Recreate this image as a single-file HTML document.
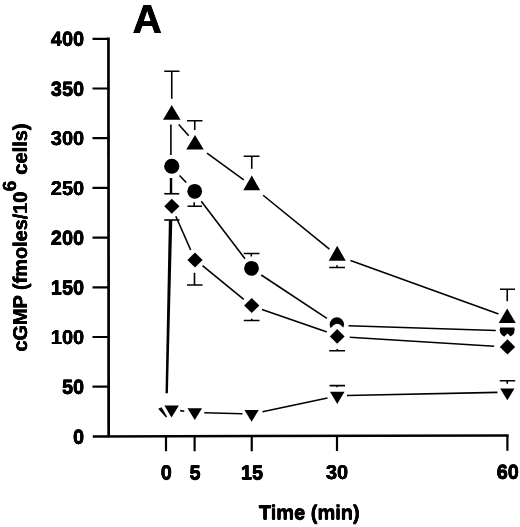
<!DOCTYPE html>
<html><head><meta charset="utf-8"><title>A</title>
<style>
html,body{margin:0;padding:0;background:#fff;}
body{width:520px;height:527px;overflow:hidden;font-family:"Liberation Sans",sans-serif;}
svg{display:block;will-change:transform;}
text{font-family:"Liberation Sans",sans-serif;font-weight:bold;fill:#000;text-rendering:geometricPrecision;}
</style></head><body>
<svg width="520" height="527" viewBox="0 0 520 527">
<rect width="520" height="527" fill="#fff"/>
<!-- axes -->
<g stroke="#000" stroke-width="2.2" fill="none" stroke-linecap="butt">
<path d="M108.45 37.5L108.65 436.4" stroke-width="2.7"/>
<path d="M92.8 436.4L508.6 435.6" stroke-width="2.5"/>
<path d="M92.5 38.8H108.3M92.5 88.5H108.3M92.5 138.2H108.3M92.5 187.9H108.3M92.5 237.6H108.3M92.5 287.3H108.3M92.5 337.0H108.3M92.5 386.7H108.3"/>
<path d="M166 436V451.3M194.6 436V451.3M251.75 436V451.2M337 436V451M507.4 435V450.7"/>
</g>
<g transform="translate(0.3,0)">
<!-- y labels -->
<g font-size="20" text-anchor="end">
<text x="84.2" y="45.8">400</text>
<text x="84.2" y="95.5">350</text>
<text x="84.2" y="145.2">300</text>
<text x="84.2" y="194.9">250</text>
<text x="84.2" y="244.6">200</text>
<text x="84.2" y="294.3">150</text>
<text x="84.2" y="344.0">100</text>
<text x="84.2" y="393.7">50</text>
<text x="84.2" y="443.5">0</text>
</g>
<g font-size="20" text-anchor="middle">
<text x="166.3" y="479.3">0</text>
<text x="195" y="479.3">5</text>
<text x="252" y="479.3">15</text>
<text x="337" y="479.0">30</text>
<text x="507.8" y="478.6">60</text>
</g>
<text x="309.3" y="519.3" font-size="20" text-anchor="middle">Time (min)</text>
<text x="132.6" y="32.8" font-size="40.5">A</text>
<text transform="translate(27,351.5) rotate(-90)" font-size="20"><tspan x="0" y="0" font-size="19.9">cGMP (fmoles/10</tspan><tspan x="160.2" y="-11" font-size="19">6</tspan><tspan x="176.9" y="0">cells)</tspan></text>
</g>
<g transform="translate(-0.3,0)">
<!-- y labels -->
<g font-size="20" text-anchor="end">
<text x="84.2" y="45.8">400</text>
<text x="84.2" y="95.5">350</text>
<text x="84.2" y="145.2">300</text>
<text x="84.2" y="194.9">250</text>
<text x="84.2" y="244.6">200</text>
<text x="84.2" y="294.3">150</text>
<text x="84.2" y="344.0">100</text>
<text x="84.2" y="393.7">50</text>
<text x="84.2" y="443.5">0</text>
</g>
<g font-size="20" text-anchor="middle">
<text x="166.3" y="479.3">0</text>
<text x="195" y="479.3">5</text>
<text x="252" y="479.3">15</text>
<text x="337" y="479.0">30</text>
<text x="507.8" y="478.6">60</text>
</g>
<text x="309.3" y="519.3" font-size="20" text-anchor="middle">Time (min)</text>
<text x="132.6" y="32.8" font-size="40.5">A</text>
<text transform="translate(27,351.5) rotate(-90)" font-size="20"><tspan x="0" y="0" font-size="19.9">cGMP (fmoles/10</tspan><tspan x="160.2" y="-11" font-size="19">6</tspan><tspan x="176.9" y="0">cells)</tspan></text>
</g>
<g transform="translate(0,0.3)">
<!-- y labels -->
<g font-size="20" text-anchor="end">
<text x="84.2" y="45.8">400</text>
<text x="84.2" y="95.5">350</text>
<text x="84.2" y="145.2">300</text>
<text x="84.2" y="194.9">250</text>
<text x="84.2" y="244.6">200</text>
<text x="84.2" y="294.3">150</text>
<text x="84.2" y="344.0">100</text>
<text x="84.2" y="393.7">50</text>
<text x="84.2" y="443.5">0</text>
</g>
<g font-size="20" text-anchor="middle">
<text x="166.3" y="479.3">0</text>
<text x="195" y="479.3">5</text>
<text x="252" y="479.3">15</text>
<text x="337" y="479.0">30</text>
<text x="507.8" y="478.6">60</text>
</g>
<text x="309.3" y="519.3" font-size="20" text-anchor="middle">Time (min)</text>
<text x="132.6" y="32.8" font-size="40.5">A</text>
<text transform="translate(27,351.5) rotate(-90)" font-size="20"><tspan x="0" y="0" font-size="19.9">cGMP (fmoles/10</tspan><tspan x="160.2" y="-11" font-size="19">6</tspan><tspan x="176.9" y="0">cells)</tspan></text>
</g>
<g transform="translate(0,-0.3)">
<!-- y labels -->
<g font-size="20" text-anchor="end">
<text x="84.2" y="45.8">400</text>
<text x="84.2" y="95.5">350</text>
<text x="84.2" y="145.2">300</text>
<text x="84.2" y="194.9">250</text>
<text x="84.2" y="244.6">200</text>
<text x="84.2" y="294.3">150</text>
<text x="84.2" y="344.0">100</text>
<text x="84.2" y="393.7">50</text>
<text x="84.2" y="443.5">0</text>
</g>
<g font-size="20" text-anchor="middle">
<text x="166.3" y="479.3">0</text>
<text x="195" y="479.3">5</text>
<text x="252" y="479.3">15</text>
<text x="337" y="479.0">30</text>
<text x="507.8" y="478.6">60</text>
</g>
<text x="309.3" y="519.3" font-size="20" text-anchor="middle">Time (min)</text>
<text x="132.6" y="32.8" font-size="40.5">A</text>
<text transform="translate(27,351.5) rotate(-90)" font-size="20"><tspan x="0" y="0" font-size="19.9">cGMP (fmoles/10</tspan><tspan x="160.2" y="-11" font-size="19">6</tspan><tspan x="176.9" y="0">cells)</tspan></text>
</g>
<!-- data lines -->
<g stroke="#000" stroke-width="1.6" fill="none">
<!-- triangles -->
<path d="M170.9 124.5V155"/>
<path d="M178.75 124.5L188.75 135.75"/>
<path d="M207 153.2L243.75 179.8"/>
<path d="M263.1 195.25L329.4 249.2"/>
<path d="M350.5 260.5L498.6 314.1"/>
<!-- circles -->
<path d="M179.5 175.5L186.25 182.5"/>
<path d="M201.25 201.25L245 258.75"/>
<path d="M261.25 275L326.9 318.3"/>
<path d="M348.5 325.8L495.8 330.5"/>
<!-- diamonds -->
<path d="M175.8 216.2L190.7 250"/>
<path d="M202.5 265.6L243.75 299.3"/>
<path d="M262 309.6L327 332.1"/>
<path d="M349.5 337.2L494.3 346.3"/>
<!-- inv triangles -->
<path d="M180.2 410.6L184.3 411.2"/>
<path d="M204.2 412.7L242.5 413.75"/>
<path d="M262.5 411.75L327.5 398"/>
<path d="M347 395.5L497.5 392.4"/>
</g>
<!-- basal rise line -->
<path d="M168.9 220H172.3L167.9 393.2H165.5Z" fill="#000"/>
<path d="M158.2 408.8L161.6 407.2L167.1 416.7L166 417.4Z" fill="#000"/>
<!-- markers -->
<g fill="#000" stroke="none">
<!-- triangles -->
<path d="M171.75 104.9L180.5 119.7H163Z"/>
<path d="M195 135L203.75 149.6H186.25Z"/>
<path d="M251.75 175.6L260.2 190.3H243.3Z"/>
<path d="M337.2 245.7L345.75 260.7H328.75Z"/>
<!-- circles -->
<circle cx="171.75" cy="166.25" r="7.6"/>
<circle cx="194.7" cy="191.3" r="7.4"/>
<circle cx="251.5" cy="268.3" r="7.4"/>
<circle cx="336.85" cy="324.5" r="7.2"/>
<circle cx="507.2" cy="329.8" r="7.5"/>
<!-- diamonds -->
<path d="M171.75 198.75L179.5 206.25L171.75 213.75L164.25 206.25Z"/>
<path d="M195 252.5L202.6 260L195 267.5L187.4 260Z"/>
<path d="M251.75 298L259.4 305.5L251.75 313L244.1 305.5Z"/>
<path d="M337.2 329L344.6 336.4L337.2 343.8L329.8 336.4Z" stroke="#fff" stroke-width="10.4" stroke-linejoin="round" paint-order="stroke"/>
<path d="M507.2 308.6L515.8 322.9H498.7Z" stroke="#fff" stroke-width="9" paint-order="stroke"/>
<path d="M507.5 339.3L515.2 346.9L507.5 354.5L499.8 346.9Z" stroke="#fff" stroke-width="8.4" paint-order="stroke"/>
<!-- inverted triangles -->
<path d="M164.4 405.5H178.9L171.5 417.5Z"/>
<path d="M187.5 408.2H202L194.8 420Z"/>
<path d="M244.5 410H258.8L251.6 421.7Z"/>
<path d="M330 391.8H344.5L337.25 403.9Z"/>
<path d="M500.2 388.6H514.5L507.3 400.3Z"/>
</g>
<!-- error bars -->
<g stroke="#000" stroke-width="1.6" fill="none">
<path d="M164.25 71.25H179.5M171.75 71.25V98.75"/>
<path d="M187 120.75H202.5M194.75 120.75V130"/>
<path d="M243.75 156.25H259.5M251.75 156.25V168.8"/>
<path d="M329.25 267.5H345M337 265.3V267.5"/>
<path d="M500 289.25H515M507.25 289.25V301.25"/>
<path d="M164.25 193.75H179.25"/><path d="M171 178V193.75" stroke-width="2.4"/>
<path d="M187.5 206.25H202M194.2 202.3V206.25"/>
<path d="M243.75 253.5H259.5M251.3 253.5V256.5"/>
<path d="M164.25 220H179.5"/>
<path d="M187 285H202.5M194.5 272.7V285"/>
<path d="M243.75 320.5H259.5M251.75 318.8V320.5"/>
<path d="M329.25 350.75H345M337.3 349V350.75"/>
<path d="M329.6 385.6H345M337 385.6V387.2"/>
<path d="M499.8 380.7H515.2M507.25 380.7V383.8"/>
</g>
</svg>
</body></html>
